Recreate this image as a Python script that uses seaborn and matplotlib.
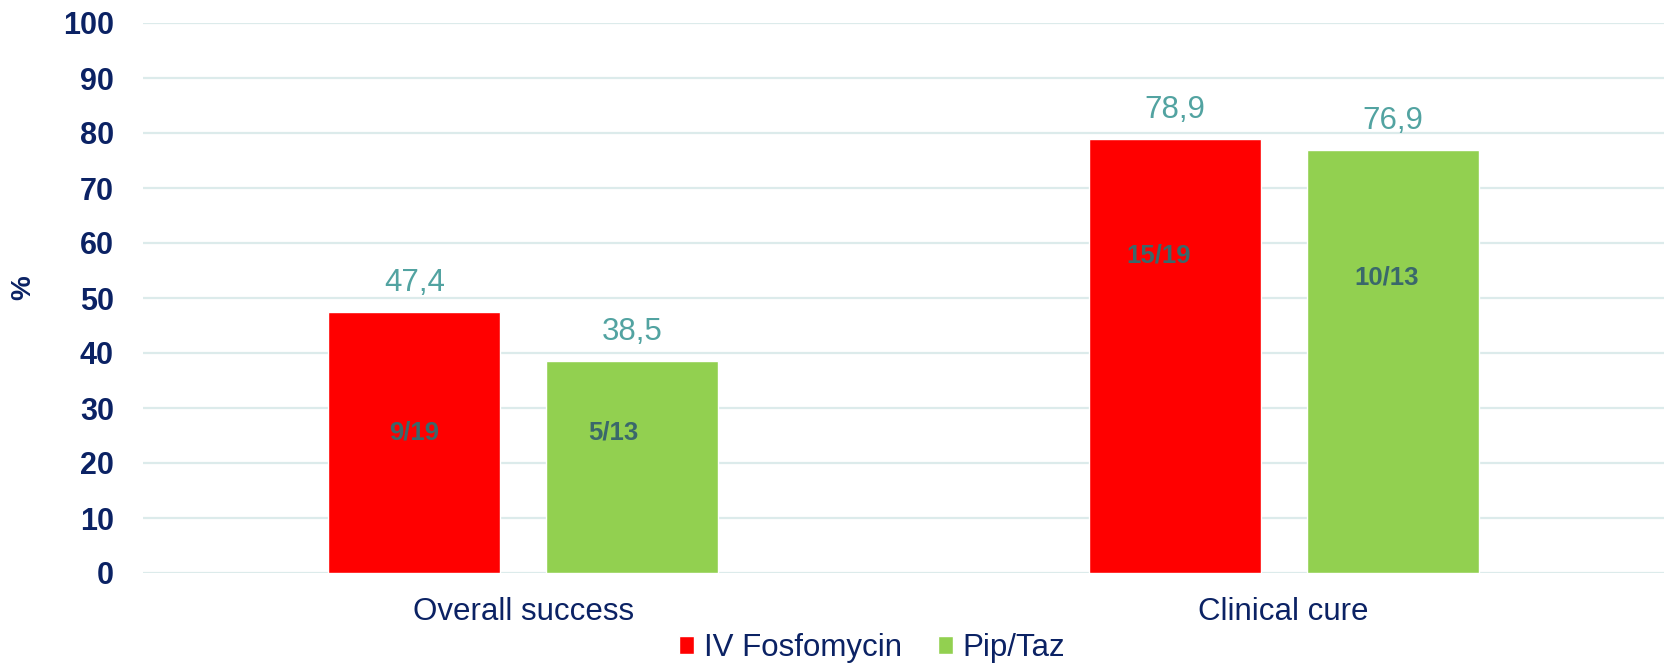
import matplotlib
matplotlib.use("Agg")
import matplotlib.pyplot as plt
import seaborn as sns
import pandas as pd

# ---- data ----
categories = ["Overall success", "Clinical cure"]
series = ["IV Fosfomycin", "Pip/Taz"]
fosfomycin = [47.4, 78.9]
piptaz = [38.5, 76.9]
fosfo_counts = ["9/19", "15/19"]
piptaz_counts = ["5/13", "10/13"]
y_ticks = [0, 10, 20, 30, 40, 50, 60, 70, 80, 90, 100]

# layout of the inner count labels (as placed in the reference)
count_label_y = [[25.6, 57.8], [25.5, 53.8]]
count_label_dx = [[0.0, -0.021], [-0.025, -0.008]]

NAVY = "#0B2264"
TEAL = "#52A3A1"
SLATE = "#3A686B"
RED = "#FF0000"
GREEN = "#92D050"
GRID = "#DCEBEB"

df = pd.DataFrame({
    "category": categories * 2,
    "series": [series[0]] * 2 + [series[1]] * 2,
    "value": fosfomycin + piptaz,
})

sns.set_theme(style="white")
plt.rcParams["font.family"] = ["Liberation Sans", "DejaVu Sans"]

fig = plt.figure(figsize=(16.64, 6.67), dpi=100)
ax = fig.add_axes([143 / 1664, 1 - 573 / 667, 1 - 143 / 1664, (573 - 23) / 667])

sns.barplot(data=df, x="category", y="value", hue="series",
            palette=[RED, GREEN], width=0.573, gap=0.211,
            saturation=1, errorbar=None, ax=ax, legend=True, zorder=3)

ax.set_ylim(0, 100)
ax.set_xlim(-0.5, 1.5)
ax.set_yticks(y_ticks)
ax.yaxis.grid(True, color=GRID, linewidth=1.6, zorder=0)
ax.set_axisbelow(True)
for s in ax.spines.values():
    s.set_visible(False)
ax.tick_params(axis="y", length=0, pad=21, labelsize=22, labelcolor=NAVY)
ax.tick_params(axis="x", length=0, pad=17, labelsize=22.5, labelcolor=NAVY)
for lab in ax.get_yticklabels():
    lab.set_fontweight("bold")
ax.set_xlabel("")
ax.set_ylabel("%", fontsize=20, fontweight="bold", color=NAVY)
ax.yaxis.set_label_coords((36 - 143) / 1521, (573 - 288) / 550)

counts = [fosfo_counts, piptaz_counts]
for si, cont in enumerate(ax.containers):
    for ci, bar in enumerate(cont):
        h = bar.get_height()
        xc = bar.get_x() + bar.get_width() / 2
        ax.annotate(f"{h:.1f}".replace(".", ","), (xc, h),
                    xytext=(0, 21), textcoords="offset points",
                    ha="center", va="center", fontsize=22.5, color=TEAL)
        ax.text(xc + count_label_dx[si][ci], count_label_y[si][ci],
                counts[si][ci], ha="center", va="center",
                fontsize=18.5, fontweight="bold", color=SLATE, zorder=5)

handles, labels = ax.get_legend_handles_labels()
ax.legend_.remove()
leg = fig.legend(handles, labels, loc="center",
                 bbox_to_anchor=(872 / 1664, 1 - 648 / 667), ncol=2,
                 frameon=False, fontsize=22.5, handlelength=0.48,
                 handleheight=0.48, handletextpad=0.3, columnspacing=1.15,
                 borderpad=0, borderaxespad=0)
for t in leg.get_texts():
    t.set_color(NAVY)

fig.savefig("out.png", dpi=100)
